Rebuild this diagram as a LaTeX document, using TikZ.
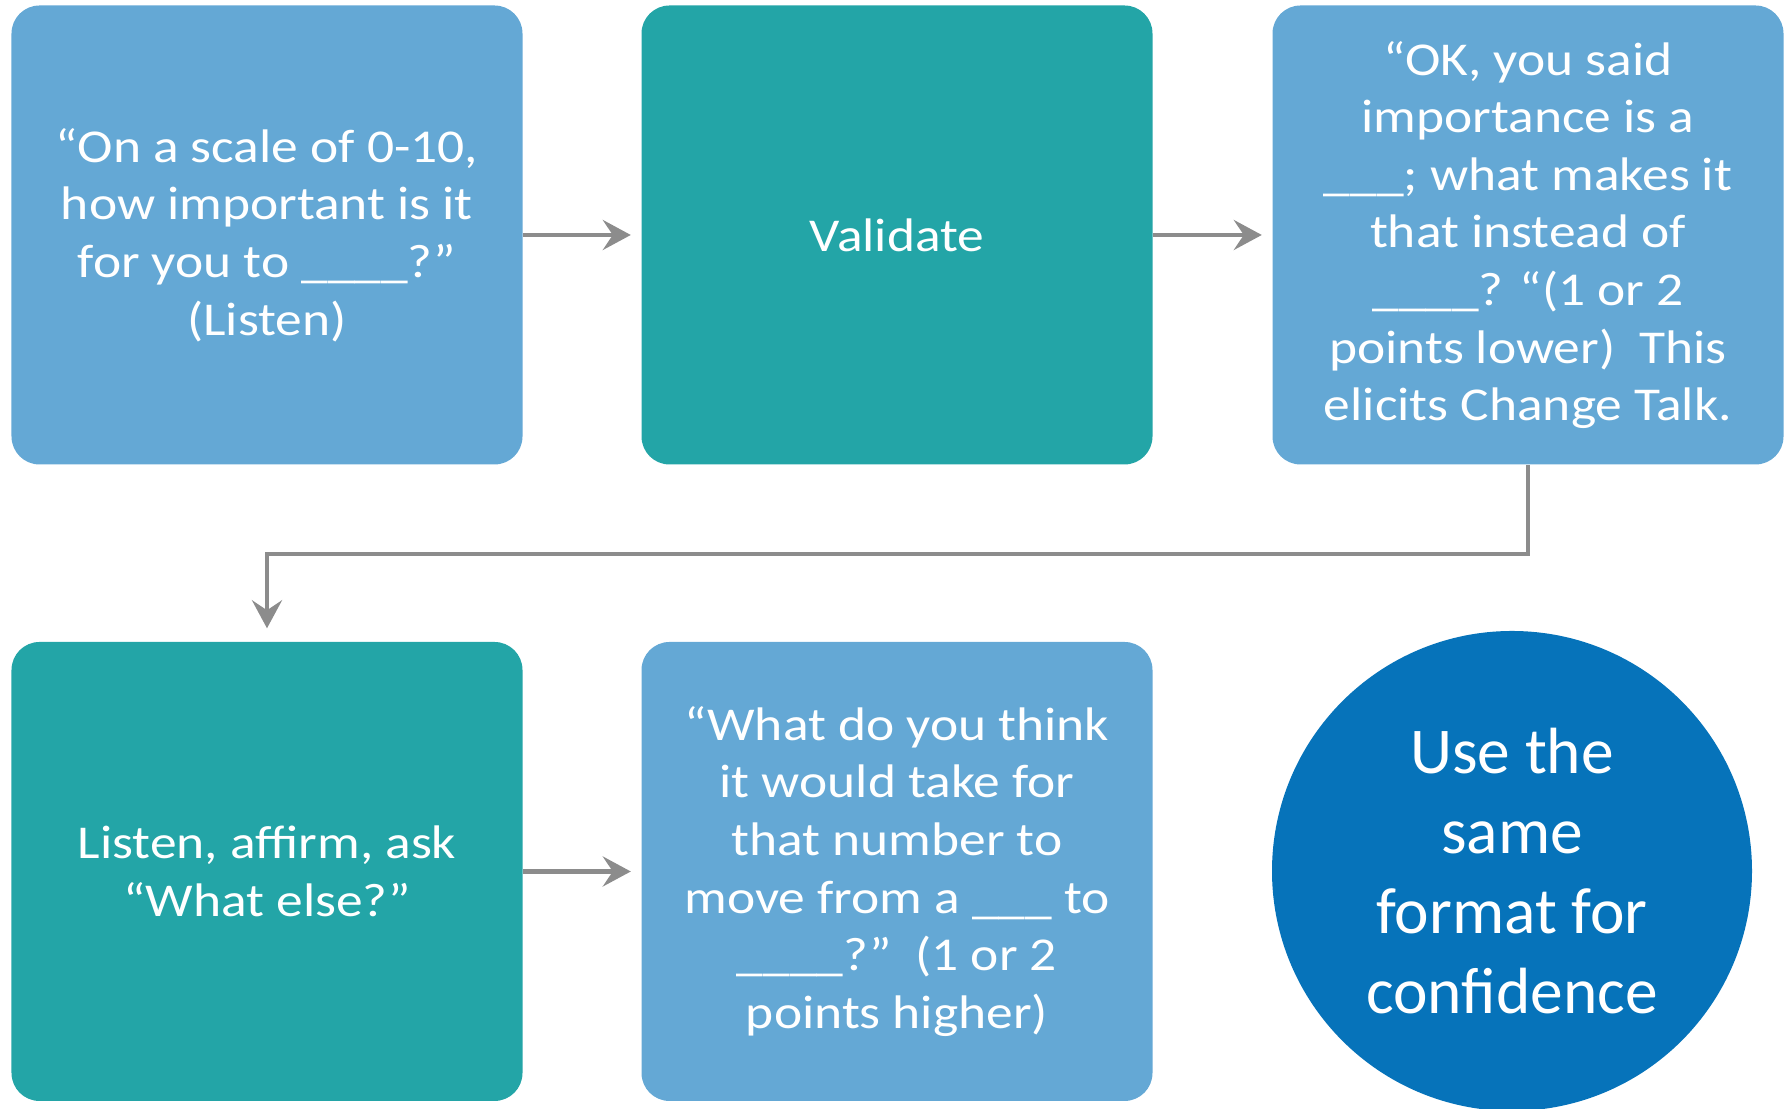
\documentclass[tikz,border=0pt]{standalone}
\usepackage{fontspec}
\setmainfont{Carlito}
\newfontfamily\boxfont[FakeStretch=1.135]{Carlito}
\usetikzlibrary{arrows.meta, positioning}
\usepackage{xcolor}
\definecolor{StepBlue}{HTML}{64A8D5}
\definecolor{StepTeal}{HTML}{23A5A7}
\definecolor{StepNavy}{HTML}{0673BA}
\definecolor{LinkGray}{HTML}{8C8C8C}
\tikzset{
    % Box styles - rounded corners, no outline
    question/.style={
        rectangle,
        rounded corners=0.28cm,
        fill=StepBlue,
        text=white,
        minimum width=5.11cm,
        minimum height=4.59cm,
        align=center,
        font=\boxfont\fontsize{13.4}{16.4}\selectfont
    },
    response/.style={
        question,
        fill=StepTeal
    },
    note/.style={
        circle,
        fill=StepNavy,
        text=white,
        minimum size=4.8cm,
        inner sep=0pt,
        align=center,
        font=\fontsize{18.6}{22.8}\selectfont
    },
    % Arrow styles - straight lines only
    arrow/.style={
        -{Stealth[length=2.8mm, width=3mm, inset=1mm]},
        line width=1.2pt,
        draw=LinkGray,
        shorten >=1mm
    }
}

\begin{document}
\begin{tikzpicture}
    \useasboundingbox (0,0) rectangle (17.89,11.09);

    \node[question] (ask) at (2.67,8.74) {“On a scale of 0-10,\\how important is it\\for you to \_\_\_\_?”\\(Listen)};

    \node[response] (validate) at (8.97,8.74) {Validate};

    \node[question] (lower) at (15.28,8.74) {“OK, you said\\importance is a\\\_\_\_; what makes it\\that instead of\\\_\_\_\_? “(1 or 2\\points lower)~~This\\elicits Change Talk.};

    \node[response] (else) at (2.67,2.375) {Listen, affirm, ask\\“What else?”};

    \node[question] (higher) at (8.97,2.375) {“What do you think\\it would take for\\that number to\\move from a \_\_\_ to\\\_\_\_\_?”~~(1 or 2\\points higher)};

    \node[note] (conf) at (15.12,2.38) {Use the\\same\\format for\\confidence};

    \draw[arrow] (ask) -- (validate);
    \draw[arrow] (validate) -- (lower);
    \draw[arrow, shorten >=1.3mm] (lower.south) -- ++(0,-0.89) -| (else.north);
    \draw[arrow] (else) -- (higher);
\end{tikzpicture}
\end{document}
